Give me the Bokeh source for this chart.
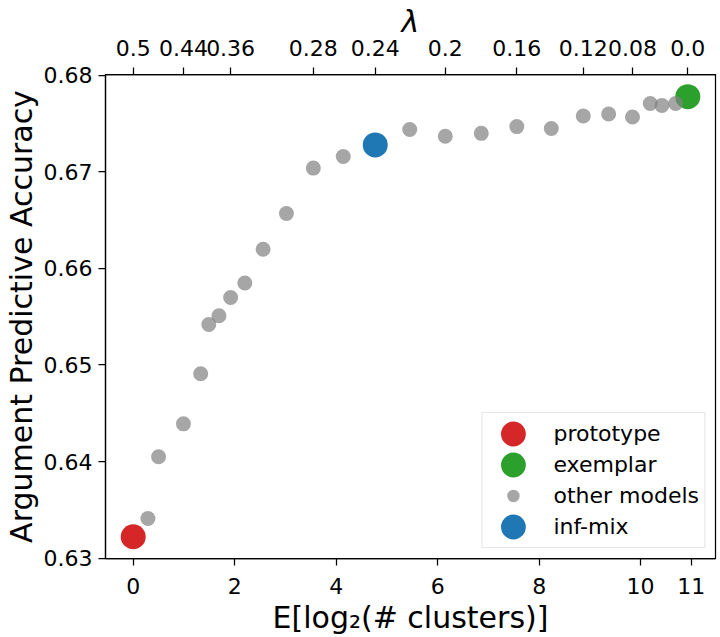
import numpy as np
from bokeh.plotting import figure
from bokeh.models import (LinearAxis, FixedTicker, PrintfTickFormatter, Range1d,
                          Legend, LegendItem, ColumnDataSource)
from bokeh.embed import file_html
from bokeh.resources import INLINE

# ---------------- data ----------------
lambdas = [0.50, 0.48, 0.46, 0.44, 0.42, 0.40, 0.38, 0.36, 0.34, 0.32, 0.30, 0.28, 0.26,
           0.24, 0.22, 0.20, 0.18, 0.16, 0.14, 0.12, 0.10, 0.08, 0.06, 0.04, 0.02, 0.00]
exp_log2_clusters = [0.00, 0.29, 0.50, 0.99, 1.33, 1.49, 1.69, 1.92, 2.20, 2.56, 3.02, 3.55, 4.14,
                     4.77, 5.45, 6.15, 6.86, 7.56, 8.24, 8.87, 9.37, 9.84, 10.19, 10.42, 10.69, 10.93]
accuracy = [0.6322, 0.6341, 0.6405, 0.6439, 0.6491, 0.6542, 0.6551, 0.6570, 0.6585, 0.6620,
            0.6657, 0.6704, 0.6716, 0.6728, 0.6744, 0.6737, 0.6740, 0.6747, 0.6745, 0.6758,
            0.6760, 0.6757, 0.6771, 0.6769, 0.6771, 0.6778]
prototype_lambda = 0.5
exemplar_lambda = 0.0
infmix_lambda = 0.24
top_tick_lambdas = [0.5, 0.44, 0.36, 0.28, 0.24, 0.2, 0.16, 0.12, 0.08, 0.0]
bottom_ticks = [0, 2, 4, 6, 8, 10, 11]
y_ticks = [0.63, 0.64, 0.65, 0.66, 0.67, 0.68]

FONT = "DejaVu Sans"
lam = np.array(lambdas)
xs = np.array(exp_log2_clusters)
ys = np.array(accuracy)


def idx(l):
    return int(np.argmin(np.abs(lam - l)))


i_proto, i_ex, i_mix = idx(prototype_lambda), idx(exemplar_lambda), idx(infmix_lambda)
other = [i for i in range(len(lam)) if i not in (i_proto, i_ex, i_mix)]


def src(ii):
    return ColumnDataSource(dict(x=xs[ii].tolist(), y=ys[ii].tolist()))


p = figure(frame_width=610, frame_height=484,
           x_range=Range1d(-0.546, 11.476), y_range=Range1d(0.62995, 0.6801),
           output_backend="svg", toolbar_location=None,
           min_border_left=97, min_border_top=66, min_border_right=4, min_border_bottom=60)
p.grid.visible = False
p.outline_line_color = "black"
p.outline_line_width = 1.25
p.background_fill_color = "white"
p.border_fill_color = "white"

BIG = dict(width=25, height=25, width_units="screen", height_units="screen", line_alpha=0)
r_proto = p.ellipse("x", "y", source=src([i_proto]), fill_color="#d62728", **BIG)
r_ex = p.ellipse("x", "y", source=src([i_ex]), fill_color="#2ca02c", **BIG)
r_other = p.scatter("x", "y", source=src(other), size=15, color="gray", alpha=0.7, line_alpha=0)
r_mix = p.ellipse("x", "y", source=src([i_mix]), fill_color="#1f77b4", **BIG)

bottom_axis = p.below[0]
left_axis = p.left[0]

# top axis with lambda values
top_x = [float(xs[idx(l)]) for l in top_tick_lambdas]
top_axis = LinearAxis(ticker=FixedTicker(ticks=top_x, minor_ticks=[]),
                      major_label_overrides={tx: str(l) for tx, l in zip(top_x, top_tick_lambdas)},
                      axis_label="λ")
p.add_layout(top_axis, "above")

bottom_axis.ticker = FixedTicker(ticks=bottom_ticks, minor_ticks=[])
bottom_axis.axis_label = "E[log₂(# clusters)]"
left_axis.ticker = FixedTicker(ticks=y_ticks, minor_ticks=[])
left_axis.formatter = PrintfTickFormatter(format="%.2f")
left_axis.axis_label = "Argument Predictive Accuracy"

for ax in (bottom_axis, left_axis, top_axis):
    ax.major_label_text_font = FONT
    ax.major_label_text_font_size = "22px"
    ax.major_label_text_color = "black"
    ax.axis_label_text_font = FONT
    ax.axis_label_text_font_size = "30px"
    ax.axis_label_text_font_style = "normal"
    ax.axis_label_text_color = "black"
    ax.major_tick_in = 0
    ax.major_tick_out = 7
    ax.minor_tick_in = 0
    ax.minor_tick_out = 0
    ax.axis_line_color = "black"
    ax.axis_line_width = 1.25
    ax.major_tick_line_width = 1.25
    ax.major_tick_line_color = "black"
top_axis.axis_label_text_font_style = "italic"
top_axis.major_label_standoff = 12
top_axis.axis_label_standoff = -2
left_axis.axis_label_standoff = 2
left_axis.major_label_standoff = 6
bottom_axis.major_label_standoff = 12
bottom_axis.axis_label_standoff = 3

legend = Legend(items=[LegendItem(label="prototype", renderers=[r_proto]),
                       LegendItem(label="exemplar", renderers=[r_ex]),
                       LegendItem(label="other models", renderers=[r_other]),
                       LegendItem(label="inf-mix", renderers=[r_mix])],
                location="bottom_right", margin=10, padding=5, spacing=0,
                glyph_width=51, glyph_height=31, label_standoff=15, label_width=145,
                label_height=31,
                label_text_font=FONT, label_text_font_size="22px", label_text_color="black",
                border_line_color="#cccccc", border_line_width=1,
                background_fill_color="white", background_fill_alpha=0.8)
p.add_layout(legend)

open("out.html", "w").write(file_html(p, INLINE))
